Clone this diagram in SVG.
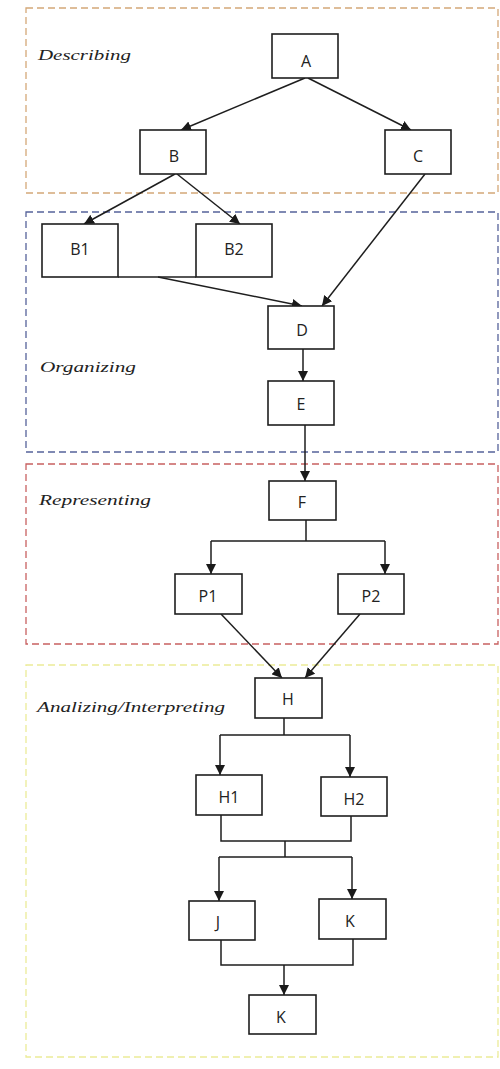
<svg xmlns="http://www.w3.org/2000/svg" width="500" height="1069" viewBox="0 0 500 1069">
  <defs>
    <marker id="arrow" viewBox="0 0 10 10" refX="10" refY="5" markerWidth="10" markerHeight="10" markerUnits="userSpaceOnUse" orient="auto">
      <path d="M0,0 L10,5 L0,10 Z" fill="#1a1a1a"/>
    </marker>
    <style>
      .zone { fill: none; stroke-width: 1.3; stroke-dasharray: 7 4; }
      .zone-label { font-family: "Liberation Serif", "Times New Roman", serif; font-style: italic; font-size: 15px; fill: #222; }
      .box { fill: #fff; stroke: #1e1e1e; stroke-width: 1.6; }
      .lbl { font-family: "Open Sans", "Liberation Sans", sans-serif; font-size: 16px; fill: #222; text-anchor: middle; dominant-baseline: central; }
      .edge { fill: none; stroke: #1e1e1e; stroke-width: 1.5; }
      .arr { marker-end: url(#arrow); }
    </style>
  </defs>

  <rect width="500" height="1069" fill="#fff"/>

  <!-- phase zones -->
  <g id="zones">
    <rect id="zone-describing" class="zone" x="26" y="8" width="472" height="185" stroke="#d4a878"/>
    <rect id="zone-organizing" class="zone" x="26" y="212" width="472" height="240" stroke="#56639a"/>
    <rect id="zone-representing" class="zone" x="26" y="464" width="472" height="180" stroke="#c86060"/>
    <rect id="zone-analyzing" class="zone" x="26" y="665" width="472" height="392" stroke="#ecec98" fill="#fffff6"/>
    <text class="zone-label" x="38" y="60" textLength="93" lengthAdjust="spacingAndGlyphs">Describing</text>
    <text class="zone-label" x="40" y="372" textLength="96" lengthAdjust="spacingAndGlyphs">Organizing</text>
    <text class="zone-label" x="39" y="505" textLength="112" lengthAdjust="spacingAndGlyphs">Representing</text>
    <text class="zone-label" x="37" y="712" textLength="188" lengthAdjust="spacingAndGlyphs">Analizing/Interpreting</text>
  </g>

  <!-- connectors -->
  <g id="connectors">
    <path class="edge arr" d="M305,78 L181,130"/>
    <path class="edge arr" d="M308,78 L411,130"/>
    <path class="edge arr" d="M175,174 L84,224"/>
    <path class="edge arr" d="M177,174 L240,224"/>
    <path class="edge" d="M118,277 L196,277"/>
    <path class="edge arr" d="M158,277 L302,306"/>
    <path class="edge arr" d="M425,174 L322,306"/>
    <path class="edge arr" d="M303,349 L303,381"/>
    <path class="edge arr" d="M305,425 L305,481"/>
    <path class="edge" d="M306,520 L306,541 M211,541 L385,541"/>
    <path class="edge arr" d="M211,541 L211,574"/>
    <path class="edge arr" d="M385,541 L385,574"/>
    <path class="edge arr" d="M221,614 L282,678"/>
    <path class="edge arr" d="M360,614 L305,678"/>
    <path class="edge" d="M284,718 L284,735 M220,735 L350,735"/>
    <path class="edge arr" d="M220,735 L220,775"/>
    <path class="edge arr" d="M350,735 L350,777"/>
    <path class="edge" d="M221,815 L221,841 L351,841 L351,816 M285,841 L285,857 M219,857 L352,857"/>
    <path class="edge arr" d="M219,857 L219,901"/>
    <path class="edge arr" d="M352,857 L352,899"/>
    <path class="edge" d="M221,940 L221,965 L353,965 L353,939"/>
    <path class="edge arr" d="M284,965 L284,995"/>
  </g>

  <!-- nodes -->
  <g id="node-A"><rect class="box" x="272" y="34" width="66" height="44"/><text class="lbl" x="306" y="61">A</text></g>
  <g id="node-B"><rect class="box" x="140" y="130" width="66" height="44"/><text class="lbl" x="174" y="156">B</text></g>
  <g id="node-C"><rect class="box" x="385" y="130" width="66" height="44"/><text class="lbl" x="418" y="156">C</text></g>
  <g id="node-B1"><rect class="box" x="42" y="224" width="76" height="53"/><text class="lbl" x="80" y="249">B1</text></g>
  <g id="node-B2"><rect class="box" x="196" y="224" width="76" height="53"/><text class="lbl" x="234" y="249">B2</text></g>
  <g id="node-D"><rect class="box" x="268" y="306" width="66" height="43"/><text class="lbl" x="302" y="330">D</text></g>
  <g id="node-E"><rect class="box" x="268" y="381" width="66" height="44"/><text class="lbl" x="301" y="404">E</text></g>
  <g id="node-F"><rect class="box" x="269" y="481" width="67" height="39"/><text class="lbl" x="302" y="502">F</text></g>
  <g id="node-P1"><rect class="box" x="175" y="574" width="67" height="40"/><text class="lbl" x="208" y="596">P1</text></g>
  <g id="node-P2"><rect class="box" x="338" y="574" width="66" height="40"/><text class="lbl" x="371" y="596">P2</text></g>
  <g id="node-H"><rect class="box" x="255" y="678" width="67" height="40"/><text class="lbl" x="288" y="699">H</text></g>
  <g id="node-H1"><rect class="box" x="196" y="775" width="66" height="40"/><text class="lbl" x="229" y="797">H1</text></g>
  <g id="node-H2"><rect class="box" x="321" y="777" width="66" height="39"/><text class="lbl" x="354" y="799">H2</text></g>
  <g id="node-J"><rect class="box" x="189" y="901" width="66" height="39"/><text class="lbl" x="218" y="922">J</text></g>
  <g id="node-K"><rect class="box" x="319" y="899" width="67" height="40"/><text class="lbl" x="350" y="921">K</text></g>
  <g id="node-K2"><rect class="box" x="249" y="995" width="67" height="39"/><text class="lbl" x="281" y="1017">K</text></g>
</svg>
